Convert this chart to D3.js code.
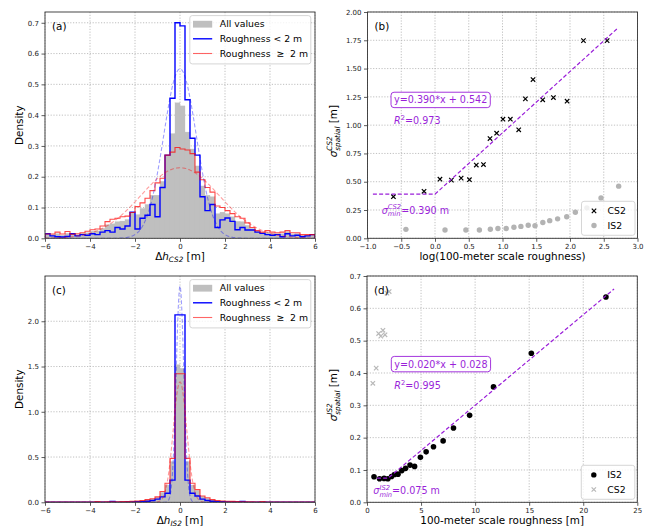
<!DOCTYPE html>
<html><head><meta charset="utf-8">
<script src="https://cdn.jsdelivr.net/npm/d3@7"></script>
<style>
body{margin:0;background:#fff;}
svg{font-family:"DejaVu Sans",sans-serif;}
text{white-space:pre;}
</style></head><body>
<svg id="chart" width="652" height="531"></svg>
<script>
// ---------------- DATA ----------------
const binStart = -6, binEnd = 6, binCount = 54;
// panel (a): CS2 elevation differences, density per bin
const histA_all  = [0.014,0.012,0.015,0.010,0.016,0.014,0.012,0.016,0.018,0.023,0.024,0.032,0.044,0.047,0.054,0.056,0.061,0.085,0.077,0.097,0.110,0.140,0.140,0.185,0.270,0.340,0.440,0.430,0.345,0.290,0.235,0.170,0.140,0.135,0.080,0.085,0.080,0.070,0.055,0.054,0.042,0.032,0.024,0.018,0.020,0.016,0.015,0.015,0.021,0.014,0.015,0.010,0.011,0.012];
const histA_low  = [0.015,0.008,0.005,0.004,0.006,0.015,0.008,0.012,0.010,0.015,0.012,0.020,0.025,0.020,0.035,0.030,0.040,0.085,0.030,0.065,0.075,0.110,0.070,0.165,0.270,0.455,0.700,0.690,0.450,0.325,0.270,0.135,0.090,0.110,0.035,0.060,0.066,0.055,0.028,0.035,0.027,0.027,0.020,0.016,0.012,0.010,0.012,0.005,0.015,0.008,0.010,0.005,0.008,0.012];
const histA_high = [0.014,0.014,0.020,0.014,0.022,0.013,0.015,0.018,0.023,0.028,0.030,0.040,0.054,0.062,0.065,0.070,0.072,0.084,0.103,0.115,0.130,0.155,0.180,0.195,0.270,0.280,0.295,0.290,0.287,0.275,0.215,0.190,0.165,0.150,0.105,0.100,0.090,0.080,0.070,0.065,0.050,0.035,0.025,0.020,0.025,0.020,0.018,0.020,0.025,0.018,0.018,0.012,0.012,0.012];
// panel (c): IS2 elevation differences
const histC_all  = [0.002,0.002,0.002,0.003,0.002,0.003,0.002,0.003,0.003,0.004,0.007,0.004,0.005,0.006,0.005,0.006,0.007,0.011,0.014,0.018,0.027,0.037,0.056,0.110,0.190,0.450,1.520,1.480,0.450,0.190,0.130,0.065,0.045,0.027,0.018,0.014,0.011,0.009,0.007,0.007,0.005,0.004,0.004,0.007,0.004,0.003,0.003,0.002,0.003,0.002,0.002,0.002,0.002,0.002];
const histC_low  = [0.001,0.001,0.001,0.001,0.001,0.001,0.001,0.001,0.001,0.001,0.001,0.001,0.002,0.010,0.002,0.002,0.003,0.004,0.006,0.008,0.012,0.020,0.035,0.060,0.100,0.245,2.070,2.070,0.245,0.100,0.070,0.035,0.020,0.012,0.008,0.006,0.004,0.003,0.003,0.010,0.002,0.001,0.001,0.001,0.001,0.001,0.001,0.001,0.001,0.001,0.001,0.001,0.001,0.001];
const histC_high = [0.002,0.002,0.002,0.003,0.002,0.003,0.002,0.003,0.003,0.004,0.008,0.004,0.005,0.005,0.006,0.007,0.008,0.012,0.015,0.020,0.030,0.040,0.060,0.120,0.210,0.485,1.420,1.420,0.485,0.210,0.140,0.070,0.050,0.030,0.020,0.015,0.012,0.010,0.008,0.006,0.006,0.005,0.004,0.008,0.004,0.003,0.003,0.002,0.003,0.002,0.002,0.002,0.002,0.002];
// normal fits (sigma) : [roughness < 2 m, roughness >= 2 m]
const gaussSigmaA = [0.725, 1.742];
const gaussSigmaC = [0.167, 0.30];
// panels (b)/(d): 100-m roughness [m] and spatial sigma [m]
const cs2Roughness = [0.540,0.850,1.076,1.275,1.473,1.665,1.844,2.050,2.259,2.492,2.737,3.053,3.456,3.815,4.272,4.933,5.778,7.078,9.016,12.807];
const cs2Sigma     = [0.368,0.415,0.522,0.514,0.532,0.518,0.647,0.652,0.882,0.929,1.053,1.053,0.959,1.232,1.403,1.224,1.244,1.212,1.747,1.747];
const is2Roughness = [0.65,1.16,1.58,1.93,2.27,2.54,2.87,3.22,3.57,3.98,4.40,4.94,5.47,6.15,7.04,8.00,9.49,11.70,15.20,22.10];
const is2Sigma     = [0.079,0.073,0.074,0.073,0.080,0.086,0.087,0.098,0.105,0.115,0.111,0.139,0.156,0.172,0.190,0.230,0.269,0.357,0.461,0.635];
// fits: slope, intercept, sigma_min, x breakpoints
const fitB = [0.542, 0.390, 0.390]; const fitB_x = [-0.92, 0, 2.71];
const fitD = [0.028, 0.020, 0.075]; const fitD_x = [0.92, 1.96, 22.85];
// ticks
const ticksHistX = [-6,-4,-2,0,2,4,6];
const ticksA_y = [0,0.1,0.2,0.3,0.4,0.5,0.6,0.7];
const ticksC_y = [0,0.5,1.0,1.5,2.0];
const ticksB_x = [-1,-0.5,0,0.5,1,1.5,2,2.5,3];
const ticksB_y = [0,0.25,0.5,0.75,1,1.25,1.5,1.75,2];
const ticksD_x = [0,5,10,15,20,25];
const ticksD_y = [0,0.1,0.2,0.3,0.4,0.5,0.6,0.7];

// ---------------- STYLE / LAYOUT ----------------
const PURPLE = "#9a1fd9";
const TICK_FS = 7, LABEL_FS = 10.4, LEG_FS = 9.3, ANN_FS = 9.6;
const svg = d3.select("#chart");
const P = {
  a:{x:45,  y:12,  w:270, h:226.3},
  b:{x:367.5,y:12, w:270, h:226.3},
  c:{x:45,  y:276, w:270, h:226.3},
  d:{x:367, y:276, w:270.3,h:226.3}
};

function mathText(parent, parts, size, fill){
  const t = parent.append("text").attr("font-size",size).attr("fill",fill||"#000");
  let cur=0, prevW=0, pending=0;
  parts.forEach(p=>{
    const fs = p.s ? size*0.7 : size;
    const off = p.s==='sup' ? -0.42*size : (p.s==='sub' ? (p.stack?0.3:0.22)*size : 0);
    const ts = t.append("tspan").text(p.t).attr("font-size",fs)
      .attr("font-style",p.it?"italic":"normal");
    let dx = pending; pending = 0;
    if(p.stack) dx -= prevW;
    if(dx) ts.attr("dx",dx);
    if(off-cur) ts.attr("dy",off-cur);
    cur = off;
    const w = ts.node().getComputedTextLength();
    if(p.stack && w<prevW) pending = prevW-w;
    prevW = w;
  });
  return t;
}

function setupPanel(p, xDom, yDom, xt, yt, xf, yf, id){
  const g = svg.append("g").attr("transform",`translate(${p.x},${p.y})`);
  const x = d3.scaleLinear().domain(xDom).range([0,p.w]);
  const y = d3.scaleLinear().domain(yDom).range([p.h,0]);
  g.append("clipPath").attr("id","clip"+id).append("rect").attr("width",p.w).attr("height",p.h);
  // grid
  const grid = g.append("g").attr("stroke","#b0b0b0").attr("stroke-width",0.8).attr("stroke-dasharray","1.2,1.6");
  grid.selectAll(".gx").data(xt).join("line").attr("x1",d=>x(d)).attr("x2",d=>x(d)).attr("y1",0).attr("y2",p.h);
  grid.selectAll(".gy").data(yt).join("line").attr("y1",d=>y(d)).attr("y2",d=>y(d)).attr("x1",0).attr("x2",p.w);
  const ax = g.append("g").attr("transform",`translate(0,${p.h})`)
    .call(d3.axisBottom(x).tickValues(xt).tickFormat(xf).tickSize(3.5).tickPadding(2));
  const ay = g.append("g")
    .call(d3.axisLeft(y).tickValues(yt).tickFormat(yf).tickSize(3.5).tickPadding(2.5));
  [ax,ay].forEach(a=>{
    a.select(".domain").remove();
    a.selectAll("line").attr("stroke","#333").attr("stroke-width",0.8);
    a.selectAll("text").attr("font-size",TICK_FS).attr("fill","#222").attr("font-family",'"DejaVu Sans",sans-serif');
  });
  const plot = g.append("g").attr("clip-path",`url(#clip${id})`);
  return {g,x,y,plot};
}
function frame(g,p){
  g.append("rect").attr("width",p.w).attr("height",p.h).attr("fill","none").attr("stroke","#333").attr("stroke-width",0.9);
}
function binEdge(i){ return binStart + i*(binEnd-binStart)/binCount; }
function histBars(plot,x,y,vals,color){
  plot.selectAll(null).data(vals).join("rect")
    .attr("x",(d,i)=>x(binEdge(i))).attr("width",(d,i)=>x(binEdge(i+1))-x(binEdge(i)))
    .attr("y",d=>y(d)).attr("height",d=>y(0)-y(d)).attr("fill",color)
    .attr("stroke",color).attr("stroke-width",0.3);
}
function histStep(plot,x,y,vals,color,width,op){
  const pts=[[binEdge(0),0]];
  vals.forEach((v,i)=>{pts.push([binEdge(i),v]);pts.push([binEdge(i+1),v]);});
  pts.push([binEdge(vals.length),0]);
  plot.append("path").attr("d",d3.line().x(d=>x(d[0])).y(d=>y(d[1]))(pts))
    .attr("fill","none").attr("stroke",color).attr("stroke-width",width).attr("stroke-opacity",op)
    .attr("stroke-linejoin","miter");
}
function gaussCurve(plot,x,y,sigma,color,op){
  const xs=d3.range(-6,6.0001,0.02);
  const f=v=>Math.exp(-v*v/(2*sigma*sigma))/(sigma*Math.sqrt(2*Math.PI));
  plot.append("path").attr("d",d3.line().x(d=>x(d)).y(d=>y(f(d)))(xs))
    .attr("fill","none").attr("stroke",color).attr("stroke-opacity",op).attr("stroke-width",1.1)
    .attr("stroke-dasharray","4,2.2");
}
function xMark(sel,s,color,w){
  return sel.append("path").attr("d",`M${-s},${-s}L${s},${s}M${-s},${s}L${s},${-s}`)
    .attr("stroke",color).attr("stroke-width",w).attr("fill","none");
}
function xLabel(p,parts){
  const t=mathText(svg,parts,LABEL_FS,"#000");
  const bb=t.node().getBBox();
  t.attr("transform",`translate(${p.x+p.w/2-bb.width/2-bb.x},${p.y+p.h+21.5})`);
}
function yLabel(p,parts,xpos,dyc){
  const gg=svg.append("g").attr("transform",`translate(${xpos},${p.y+p.h/2+(dyc||0)}) rotate(-90)`);
  const t=mathText(gg,parts,LABEL_FS,"#000");
  const bb=t.node().getBBox();
  t.attr("transform",`translate(${-bb.width/2-bb.x},0)`);
}
function panelLetter(p,s){
  svg.append("text").attr("x",p.x+7).attr("y",p.y+18.3).attr("font-size",LABEL_FS).text(s);
}
function legendBox(g,x0,y0,w,h){
  g.append("rect").attr("x",x0).attr("y",y0).attr("width",w).attr("height",h).attr("rx",2.5)
    .attr("fill","#fff").attr("fill-opacity",0.8).attr("stroke","#cccccc").attr("stroke-width",0.8);
}

// ---------------- HISTOGRAM PANELS ----------------
function histPanel(p,id,all,low,high,sig,yDom,yt,letter,sub){
  const {g,x,y,plot}=setupPanel(p,[-6,6],yDom,ticksHistX,yt,d3.format("d"),d3.format(".1f"),id);
  histBars(plot,x,y,all,"#bfbfbf");
  histStep(plot,x,y,low,"#0000ff",1.4,1);
  histStep(plot,x,y,high,"#ff0000",1.1,0.72);
  gaussCurve(plot,x,y,sig[0],"#0000ff",0.38);
  gaussCurve(plot,x,y,sig[1],"#ff0000",0.38);
  frame(g,p);
  // legend
  const lx=p.w-125.2, ly=3.6;
  legendBox(g,lx,ly,121,48.3);
  const rows=[ly+8.6, ly+23.2, ly+37.9];
  g.append("rect").attr("x",lx+3.2).attr("y",rows[0]-3.4).attr("width",19.2).attr("height",6.8).attr("fill","#bfbfbf");
  g.append("line").attr("x1",lx+3.2).attr("x2",lx+22.4).attr("y1",rows[1]).attr("y2",rows[1]).attr("stroke","#0000ff").attr("stroke-width",1.4);
  g.append("line").attr("x1",lx+3.2).attr("x2",lx+22.4).attr("y1",rows[2]).attr("y2",rows[2]).attr("stroke","#ff0000").attr("stroke-opacity",0.6).attr("stroke-width",1.1);
  const labs=["All values","Roughness < 2 m","Roughness  \u2265  2 m"];
  labs.forEach((s,i)=>g.append("text").attr("x",lx+30).attr("y",rows[i]).attr("dy","0.35em").attr("font-size",LEG_FS).text(s));
  panelLetter(p,letter);
  xLabel(p,[{t:"\u0394"},{t:"h",it:true},{t:sub,s:"sub",it:true},{t:" [m]"}]);
  yLabel(p,[{t:"Density"}],23);
}
histPanel(P.a,"a",histA_all,histA_low,histA_high,gaussSigmaA,[0,0.735],ticksA_y,"(a)","CS2");
histPanel(P.c,"c",histC_all,histC_low,histC_high,gaussSigmaC,[0,2.5],ticksC_y,"(c)","IS2");

// ---------------- SCATTER PANELS ----------------
function fitLine(plot,x,y,fit,xs){
  const pts=xs.map(v=>[v,Math.max(fit[2],fit[0]*v+fit[1])]);
  plot.append("path").attr("d",d3.line().x(d=>x(d[0])).y(d=>y(d[1]))(pts))
    .attr("fill","none").attr("stroke",PURPLE).attr("stroke-width",1.2).attr("stroke-dasharray","4,2.2");
}
function annotations(g,x,y,eqPos,r2Pos,minPos,eqText,r2Text,minText,sat){
  const t=g.append("text").attr("x",x(eqPos[0])).attr("y",y(eqPos[1])).attr("font-size",ANN_FS).attr("fill",PURPLE).text(eqText);
  const bb=t.node().getBBox();
  g.insert("rect",()=>t.node()).attr("x",bb.x-3).attr("y",bb.y-2.2).attr("width",bb.width+6).attr("height",bb.height+4.4)
    .attr("rx",3).attr("fill","#fff").attr("stroke",PURPLE).attr("stroke-width",0.9);
  const r=mathText(g,[{t:"R",it:true},{t:"2",s:"sup"},{t:"="+r2Text}],ANN_FS,PURPLE);
  r.attr("transform",`translate(${x(r2Pos[0])},${y(r2Pos[1])})`);
  const m=mathText(g,[{t:"\u03c3",it:true},{t:sat,s:"sup",it:true},{t:"min",s:"sub",it:true,stack:true},{t:"="+minText}],ANN_FS,PURPLE);
  m.attr("transform",`translate(${x(minPos[0])},${y(minPos[1])})`);
}
function scatterLegend(g,p,first,second){
  const lx=p.w-56, ly=p.h-37;
  legendBox(g,lx,ly,53.5,34);
  const rows=[ly+9.6, ly+24.2];
  [first,second].forEach((it,i)=>{
    const mg=g.append("g").attr("transform",`translate(${lx+12.5},${rows[i]})`);
    if(it.m==="x") xMark(mg,2.2,it.c,1.2); else mg.append("circle").attr("r",2.7).attr("fill",it.c);
    g.append("text").attr("x",lx+26).attr("y",rows[i]).attr("dy","0.35em").attr("font-size",LEG_FS).text(it.l);
  });
}

// (b)
(function(){
  const p=P.b;
  const {g,x,y,plot}=setupPanel(p,[-1,3],[0,2],ticksB_x,ticksB_y,d3.format(".1f"),d3.format(".2f"),"b");
  plot.selectAll(null).data(is2Roughness.map((r,i)=>[Math.log(r),is2Sigma[i]])).join("circle")
    .attr("cx",d=>x(d[0])).attr("cy",d=>y(d[1])).attr("r",2.7).attr("fill","#b3b3b3");
  cs2Roughness.forEach((r,i)=>{
    xMark(plot.append("g").attr("transform",`translate(${x(Math.log(r))},${y(cs2Sigma[i])})`),2.2,"#000",1.2);
  });
  fitLine(plot,x,y,fitB,fitB_x);
  annotations(g,x,y,[-0.607,1.192],[-0.607,1.006],[-0.79,0.219],"y=0.390*x + 0.542","0.973","0.390 m","CS2");
  scatterLegend(g,p,{m:"x",c:"#000",l:"CS2"},{m:"o",c:"#b3b3b3",l:"IS2"});
  frame(g,p);
  panelLetter(p,"(b)");
  xLabel(p,[{t:"log(100-meter scale roughness)"}]);
  yLabel(p,[{t:"\u03c3",it:true},{t:"CS2",s:"sup",it:true},{t:"spatial",s:"sub",it:true,stack:true},{t:" [m]"}],336.5,6);
})();

// (d)
(function(){
  const p=P.d;
  const {g,x,y,plot}=setupPanel(p,[0,25],[0,0.7],ticksD_x,ticksD_y,d3.format("d"),d3.format(".1f"),"d");
  cs2Roughness.forEach((r,i)=>{
    xMark(plot.append("g").attr("transform",`translate(${x(r)},${y(cs2Sigma[i])})`),2.2,"#b8b8b8",1.2);
  });
  plot.selectAll(null).data(is2Roughness.map((r,i)=>[r,is2Sigma[i]])).join("circle")
    .attr("cx",d=>x(d[0])).attr("cy",d=>y(d[1])).attr("r",2.8).attr("fill","#000");
  fitLine(plot,x,y,fitD,fitD_x);
  annotations(g,x,y,[2.525,0.4166],[2.525,0.3505],[0.583,0.0257],"y=0.020*x + 0.028","0.995","0.075 m","IS2");
  scatterLegend(g,p,{m:"o",c:"#000",l:"IS2"},{m:"x",c:"#b8b8b8",l:"CS2"});
  frame(g,p);
  panelLetter(p,"(d)");
  xLabel(p,[{t:"100-meter scale roughness [m]"}]);
  yLabel(p,[{t:"\u03c3",it:true},{t:"IS2",s:"sup",it:true},{t:"spatial",s:"sub",it:true,stack:true},{t:" [m]"}],336.5,6);
})();
</script>
</body></html>
